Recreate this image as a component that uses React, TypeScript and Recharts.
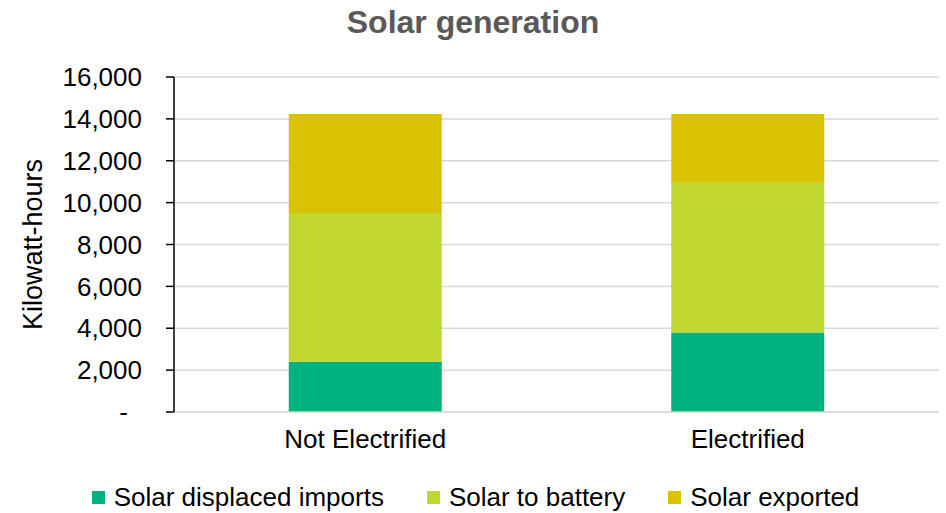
import React from 'react';
import {
  BarChart,
  Bar,
  XAxis,
  YAxis,
  CartesianGrid,
  Legend,
} from 'recharts';

const categories = ['Not Electrified', 'Electrified'];
const displacedImports = [2400, 3800];
const toBattery = [7100, 7150];
const exported = [4730, 3280];
const yTicks = [0, 2000, 4000, 6000, 8000, 10000, 12000, 14000, 16000];

const series = [
  { key: 'displaced', name: 'Solar displaced imports', color: '#00B37E', values: displacedImports },
  { key: 'battery', name: 'Solar to battery', color: '#BFD730', values: toBattery },
  { key: 'exported', name: 'Solar exported', color: '#D9C200', values: exported },
];

const data = categories.map((c, i) => {
  const row: Record<string, string | number> = { category: c };
  series.forEach((s) => {
    row[s.key] = s.values[i];
  });
  return row;
});

const FONT = "'Liberation Sans', Arial, sans-serif";

const YTick = (props: any) => {
  const { x, y, payload } = props;
  const v = payload.value as number;
  const label = v === 0 ? '-' : v.toLocaleString('en-US');
  return (
    <text
      x={v === 0 ? x - 14 : x}
      y={y}
      dy="0.355em"
      textAnchor="end"
      fontSize={26}
      fontFamily={FONT}
      fill="#000"
    >
      {label}
    </text>
  );
};

const renderLegend = () => (
  <div
    style={{
      height: 41,
      boxSizing: 'border-box',
      paddingTop: 11,
      paddingLeft: 12,
      display: 'flex',
      justifyContent: 'center',
      alignItems: 'flex-start',
      gap: 43,
      fontFamily: FONT,
      fontSize: 26,
      lineHeight: '28px',
      color: '#000',
    }}
  >
    {series.map((s) => (
      <div key={s.key} style={{ display: 'flex', alignItems: 'center', gap: 9 }}>
        <span style={{ width: 13, height: 13, background: s.color, display: 'inline-block' }} />
        <span>{s.name}</span>
      </div>
    ))}
  </div>
);

export default function App() {
  return (
    <div style={{ position: 'absolute', left: 0, top: 0, width: 946, height: 513 }}>
      <BarChart
        width={946}
        height={513}
        data={data}
        margin={{ top: 77, right: 7, left: 0, bottom: 0 }}
        barCategoryGap="30%"
      >
        <CartesianGrid vertical={false} stroke="#D9D9D9" strokeWidth={1.5} />
        <XAxis
          dataKey="category"
          height={60}
          tickLine={false}
          axisLine={{ stroke: '#D9D9D9', strokeWidth: 1.5 }}
          tickSize={6}
          tickMargin={12}
          tick={{ fontSize: 26, fontFamily: FONT, fill: '#000' }}
        />
        <YAxis
          width={174}
          domain={[0, 16000]}
          ticks={yTicks}
          interval={0}
          tickSize={8}
          tickMargin={24}
          axisLine={{ stroke: '#000', strokeWidth: 1.5 }}
          tickLine={{ stroke: '#000', strokeWidth: 1.5 }}
          tick={<YTick />}
          label={{
            value: 'Kilowatt-hours',
            angle: -90,
            position: 'insideLeft',
            offset: 32,
            style: { textAnchor: 'middle', fontSize: 27, fontFamily: FONT, fill: '#000' },
          }}
        />
        <Legend verticalAlign="bottom" height={41} content={renderLegend} />
        {series.map((s) => (
          <Bar
            key={s.key}
            dataKey={s.key}
            name={s.name}
            stackId="a"
            fill={s.color}
            isAnimationActive={false}
          />
        ))}
      </BarChart>
      <svg
        width={946}
        height={50}
        style={{ position: 'absolute', left: 0, top: 0, pointerEvents: 'none' }}
      >
        <text
          x={473}
          y={33}
          textAnchor="middle"
          fontSize={32}
          fontWeight="bold"
          fontFamily={FONT}
          fill="#595959"
        >
          Solar generation
        </text>
      </svg>
    </div>
  );
}
